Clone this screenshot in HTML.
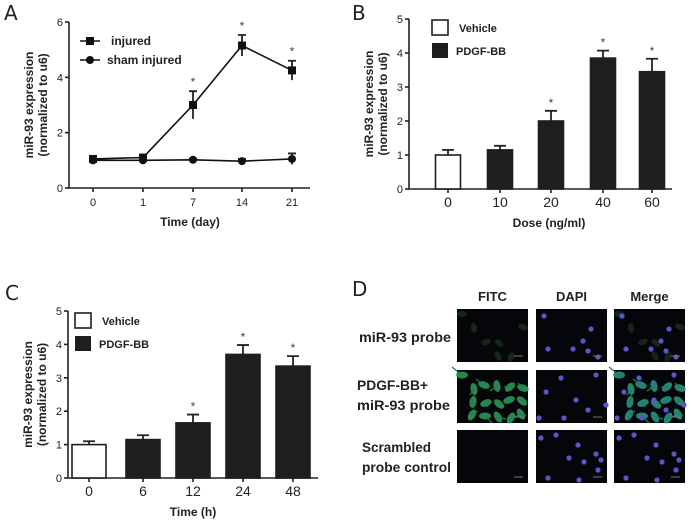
<!DOCTYPE html>
<html><head><meta charset="utf-8"><style>
body{margin:0;background:#fff;}
svg{display:block;font-family:"Liberation Sans",Arial,sans-serif;}
.ax{stroke:#222;stroke-width:1.6;fill:none}
.tk{font-size:11px;fill:#222;text-anchor:middle}
.yl{font-size:11px;fill:#222;text-anchor:end}
.tt{font-size:12px;font-weight:bold;fill:#222;text-anchor:middle}
.lg{font-size:12px;font-weight:bold;fill:#222}
.pl{font-size:20px;fill:#222;font-family:"DejaVu Sans",sans-serif}
.dl{font-size:12.5px;font-weight:bold;fill:#222}
</style></head><body>
<svg id="fig" width="691" height="524" viewBox="0 0 691 524">
<rect width="691" height="524" fill="#fff"/>
<text class="pl" x="4" y="20">A</text>
<text class="pl" x="352" y="20">B</text>
<text class="pl" x="5" y="300">C</text>
<text class="pl" x="352" y="296">D</text>
<g id="A"></g>
<g id="B"></g>
<g id="C"></g>
<g id="D"></g>
</svg>
<script>
const aCats=["0","1","7","14","21"];
const aInjured=[1.05,1.1,3.0,5.15,4.25];
const aInjuredErr=[0.1,0.1,0.5,0.38,0.35];
const aSham=[1.0,1.0,1.02,0.97,1.05];
const aShamErr=[0.05,0.05,0.05,0.08,0.2];
const aSig=[false,false,true,true,true];
const aTicks=[0,2,4,6];
const bCats=["0","10","20","40","60"];
const bVals=[1.0,1.15,2.0,3.85,3.45];
const bErr=[0.15,0.12,0.3,0.22,0.38];
const bSig=[false,false,true,true,true];
const cCats=["0","6","12","24","48"];
const cVals=[1.0,1.15,1.65,3.7,3.35];
const cErr=[0.1,0.13,0.25,0.28,0.3];
const cSig=[false,false,true,true,true];
const barTicks=[0,1,2,3,4,5];

const NS="http://www.w3.org/2000/svg";
function mk(p,t,a,txt){const e=document.createElementNS(NS,t);for(const k in a)e.setAttribute(k,a[k]);if(txt!=null)e.textContent=txt;p.appendChild(e);return e;}

function axes(g,o){
  const y=v=>o.y0-(v/o.ymax)*(o.y0-o.y1);
  const ax=mk(g,'path',{class:'ax',d:`M${o.x0},${o.y1}V${o.y0}H${o.xe}`});
  
  o.ticks.forEach(t=>{
    const l=mk(g,'line',{class:'ax',x1:o.x0-4,x2:o.x0,y1:y(t),y2:y(t)});
    
    const tx=mk(g,'text',{class:'yl',x:o.x0-6,y:y(t)+4},String(t));
    
  });
  o.cats.forEach((c,i)=>{
    const x=o.xs(i);
    const l=mk(g,'line',{class:'ax',x1:x,x2:x,y1:o.y0,y2:o.y0+4});
    
    const tx=mk(g,'text',{class:'tk',x:x,y:o.y0+18,style:o.bigTick?'font-size:14px':''},c);
    
  });
  const xt=mk(g,'text',{class:'tt',x:o.xtx,y:o.y0+38},o.xtitle);
  
  const cy=(o.y0+o.y1)/2;
  const yt=mk(g,'text',{class:'tt',transform:`translate(${o.x0-36},${cy}) rotate(-90)`},'');
  
  mk(yt,'tspan',{x:0,y:0},'miR-93 expression');
  mk(yt,'tspan',{x:0,y:14},'(normalized to u6)');
  return y;
}
function errbar(g,x,yv,ye,w){
  const e=mk(g,'path',{class:'ax',d:`M${x},${yv}V${ye}M${x-w},${ye}H${x+w}`,style:'stroke-width:1.8'});
  
}
function star(g,x,yy){const s=mk(g,'text',{x:x,y:yy,'text-anchor':'middle','font-size':'12',fill:'#444'},'*');
  }

// Panel A
(function(){
  const g=document.getElementById('A');
  const xp=[93,143,193,242,292];
  const o={x0:69,y0:188,y1:22,ymax:6,xe:310,ticks:aTicks,cats:aCats,xs:i=>xp[i],xtitle:'Time (day)',xtx:190};
  const y=axes(g,o);
  const ls=mk(g,'polyline',{fill:'none',stroke:'#111','stroke-width':1.6,points:aSham.map((v,i)=>o.xs(i)+','+y(v)).join(' ')});
  
  const li=mk(g,'polyline',{fill:'none',stroke:'#111','stroke-width':1.6,points:aInjured.map((v,i)=>o.xs(i)+','+y(v)).join(' ')});
  
  aSham.forEach((v,i)=>{
    errbar(g,o.xs(i),y(v-aShamErr[i]),y(v+aShamErr[i]),4);
    const c=mk(g,'circle',{cx:o.xs(i),cy:y(v),r:4,fill:'#111'});
    
  });
  aInjured.forEach((v,i)=>{
    errbar(g,o.xs(i),y(v-aInjuredErr[i]),y(v+aInjuredErr[i]),4);
    const r=mk(g,'rect',{x:o.xs(i)-4,y:y(v)-4,width:8,height:8,fill:'#111'});
    
    if(aSig[i])star(g,o.xs(i),y(v+aInjuredErr[i])-5);
  });
  const l1=mk(g,'g',{});
  mk(l1,'line',{x1:80,x2:100,y1:41,y2:41,stroke:'#111','stroke-width':1.6});
  mk(l1,'rect',{x:86,y:37,width:8,height:8,fill:'#111'});
  mk(l1,'text',{class:'lg',x:111,y:45},'injured');
  const l2=mk(g,'g',{});
  mk(l2,'line',{x1:80,x2:100,y1:60,y2:60,stroke:'#111','stroke-width':1.6});
  mk(l2,'circle',{cx:90,cy:60,r:4,fill:'#111'});
  mk(l2,'text',{class:'lg',x:107,y:64},'sham injured');
})();

function barChart(id,o,vals,errs,sig,bw){
  const g=document.getElementById(id);
  const y=axes(g,o);
  vals.forEach((v,i)=>{
    const x=o.xs(i);
    errbar(g,x,y(v),y(v+errs[i]),6);
    const r=mk(g,'rect',{x:x-bw/2,y:y(v),width:bw,height:o.y0-y(v),fill:i==0?'#fff':'#1e1e1e',stroke:'#1e1e1e','stroke-width':1.6});
    
    if(sig[i])star(g,x,y(v+errs[i])-4);
  });
  const lx=o.lx,ly=o.ly;
  const l1=mk(g,'g',{});
  mk(l1,'rect',{x:lx,y:ly,width:16,height:15,fill:'#fff',stroke:'#1e1e1e','stroke-width':1.6});
  mk(l1,'text',{class:'lg',x:lx+27,y:ly+12,style:'font-size:11px'},'Vehicle');
  const l2=mk(g,'g',{});
  mk(l2,'rect',{x:lx,y:ly+23,width:16,height:15,fill:'#1e1e1e'});
  mk(l2,'text',{class:'lg',x:lx+24,y:ly+35,style:'font-size:11px'},'PDGF-BB');
}
const bx=[448,500,551,603,652];
barChart('B',{x0:409,y0:189,y1:19,ymax:5,xe:672,ticks:barTicks,cats:bCats,xs:i=>bx[i],xtitle:'Dose (ng/ml)',xtx:549,lx:432,ly:20,bigTick:true},bVals,bErr,bSig,25);
const cx=[89,143,193,243,293];
barChart('C',{x0:68,y0:478,y1:311,ymax:5,xe:318,ticks:barTicks,cats:cCats,xs:i=>cx[i],xtitle:'Time (h)',xtx:193,lx:75,ly:313,bigTick:true},cVals,cErr,cSig,34);

// Panel D
(function(){
  const g=document.getElementById('D');
  const cols=[457,536,614],rows=[309,370,430],W=71,H=53;
  ['FITC','DAPI','Merge'].forEach((t,i)=>{const e=mk(g,'text',{class:'dl',x:cols[i]+W/2,y:301,'text-anchor':'middle',style:'font-size:13px'},t);
    });
  [['miR-93 probe',359,342,92],['PDGF-BB+',357,390,71],['miR-93 probe',357,410,93],['Scrambled',362,452,69],['probe control',362,472,89]].forEach(r=>{
    const e=mk(g,'text',{class:'dl',x:r[1],y:r[2],textLength:r[3],lengthAdjust:'spacingAndGlyphs',style:'font-size:14px'},r[0]);});
  const dots=[[[8,7],[55,20],[12,40],[47,32],[62,48],[37,40],[52,42]],[[10,22],[28,48],[40,30],[52,40],[70,35],[25,8],[60,5],[3,48]],[[5,8],[20,5],[42,15],[33,28],[48,32],[62,40],[12,48],[43,50],[60,24],[65,30]]];
  rows.forEach((ry,ri)=>cols.forEach((cxx,ci)=>{
    const p=mk(g,'g',{});
    mk(p,'rect',{x:cxx,y:ry,width:W,height:H,fill:'#05060a'});
    if(ci!=1&&ri<2){
      const n=ri==0?7:16;
      for(let k=0;k<n;k++){
        const px=cxx+5+((k*37)%62),py=ry+5+((k*29)%44);
        mk(p,'ellipse',{cx:px,cy:py,rx:ri?6:5,ry:ri?3.5:3,fill:ri?(ci==2?'#2a9a88':'#2e9c5a'):'#16301c',opacity:ri?0.85:0.8,transform:`rotate(${k*40} ${px} ${py})`});
        if(ri)mk(p,'line',{x1:px,y1:py,x2:px+((k*13)%20)-10,y2:py+((k*7)%16)-8,stroke:'#238048','stroke-width':1.2});
      }
    }
    if(ci>0)dots[ri].forEach(d=>mk(p,'circle',{cx:cxx+d[0],cy:ry+d[1],r:2.6,fill:'#5a55c8'}));
    mk(p,'line',{x1:cxx+W-14,x2:cxx+W-5,y1:ry+H-6,y2:ry+H-6,stroke:'#777','stroke-width':1});
  }));
})();
</script>
</body></html>
